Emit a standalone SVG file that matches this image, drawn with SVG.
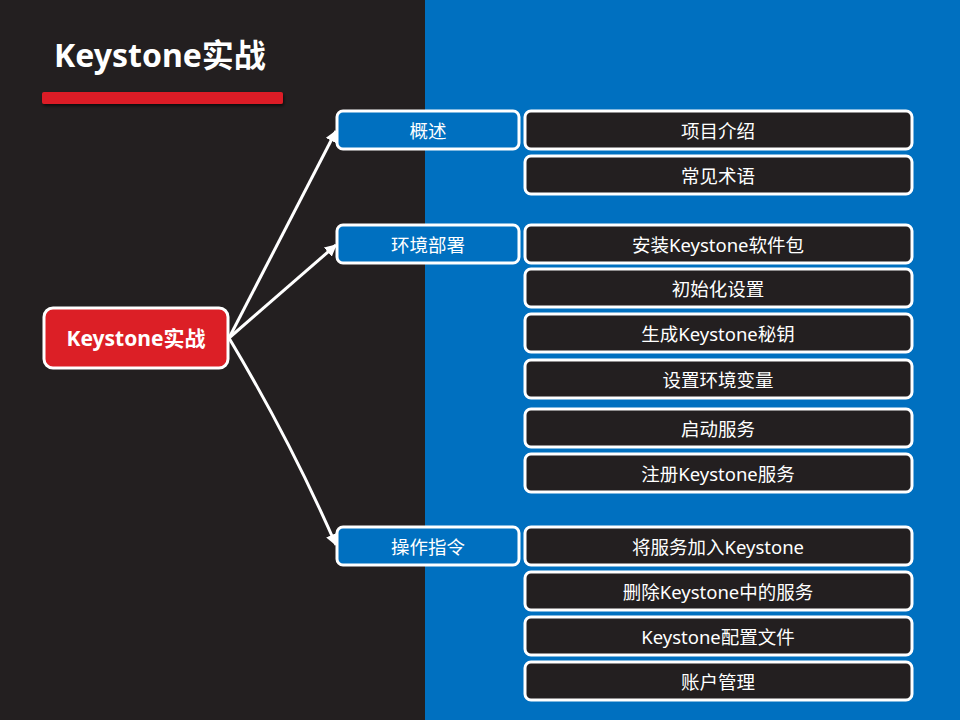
<svg xmlns="http://www.w3.org/2000/svg" width="960" height="720" viewBox="0 0 960 720">
<style>
.t{font-family:"Noto Sans","Noto Sans CJK SC",sans-serif;fill:#fff;text-anchor:middle;dominant-baseline:central}
.l1 rect{fill:#0070c0;stroke:#fff;stroke-width:3}
.l2 rect{fill:#231f20;stroke:#fff;stroke-width:3}
.l1 text,.l2 text{font-size:18.5px}
.c{stroke:#fff;stroke-width:3;fill:none}
</style>
<defs>
<marker id="a" viewBox="0 0 10 10" refX="9" refY="5" markerWidth="4" markerHeight="4" orient="auto" markerUnits="strokeWidth"><path d="M0,0L10,5L0,10z" fill="#fff"/></marker>
<filter id="sh" x="-10%" y="-50%" width="120%" height="250%"><feDropShadow dx="1" dy="2" stdDeviation="1.5" flood-color="#000" flood-opacity="0.6"/></filter>
</defs>
<rect x="0" y="0" width="960" height="720" fill="#231f20"/>
<rect x="425" y="0" width="535" height="720" fill="#0070c0"/>
<g id="title">
<text x="54" y="54" class="t" style="text-anchor:start;font-size:32px;font-weight:bold">Keystone实战</text>
<rect x="42" y="92" width="241" height="12" rx="2" fill="#dc1f26" filter="url(#sh)"/>
</g>
<g id="connectors">
<line class="c" x1="229" y1="338" x2="336" y2="131" marker-end="url(#a)"/>
<line class="c" x1="229" y1="338" x2="336" y2="245" marker-end="url(#a)"/>
<path class="c" d="M229,338 Q290,440 336,545" marker-end="url(#a)"/>
</g>
<g id="root">
<rect x="44" y="308" width="184" height="60" rx="9" fill="#dc1f26" stroke="#fff" stroke-width="3"/>
<text x="136" y="338" class="t" style="font-size:21px;font-weight:bold">Keystone实战</text>
</g>
<g id="n1" class="l1"><rect x="337" y="111" width="182" height="38" rx="6"/><text x="428" y="130" class="t">概述</text></g>
<g id="n2" class="l1"><rect x="337" y="225" width="182" height="38" rx="6"/><text x="428" y="244" class="t">环境部署</text></g>
<g id="n3" class="l1"><rect x="337" y="527" width="182" height="38" rx="6"/><text x="428" y="546" class="t">操作指令</text></g>
<g id="n1a" class="l2"><rect x="525" y="111" width="387" height="38" rx="6"/><text x="718" y="130" class="t">项目介绍</text></g>
<g id="n1b" class="l2"><rect x="525" y="156" width="387" height="38" rx="6"/><text x="718" y="175" class="t">常见术语</text></g>
<g id="n2a" class="l2"><rect x="525" y="225" width="387" height="38" rx="6"/><text x="718" y="244" class="t">安装Keystone软件包</text></g>
<g id="n2b" class="l2"><rect x="525" y="269" width="387" height="38" rx="6"/><text x="718" y="288" class="t">初始化设置</text></g>
<g id="n2c" class="l2"><rect x="525" y="314" width="387" height="38" rx="6"/><text x="718" y="333" class="t">生成Keystone秘钥</text></g>
<g id="n2d" class="l2"><rect x="525" y="360" width="387" height="38" rx="6"/><text x="718" y="379" class="t">设置环境变量</text></g>
<g id="n2e" class="l2"><rect x="525" y="409" width="387" height="38" rx="6"/><text x="718" y="428" class="t">启动服务</text></g>
<g id="n2f" class="l2"><rect x="525" y="454" width="387" height="38" rx="6"/><text x="718" y="473" class="t">注册Keystone服务</text></g>
<g id="n3a" class="l2"><rect x="525" y="527" width="387" height="38" rx="6"/><text x="718" y="546" class="t">将服务加入Keystone</text></g>
<g id="n3b" class="l2"><rect x="525" y="572" width="387" height="38" rx="6"/><text x="718" y="591" class="t">删除Keystone中的服务</text></g>
<g id="n3c" class="l2"><rect x="525" y="617" width="387" height="38" rx="6"/><text x="718" y="636" class="t">Keystone配置文件</text></g>
<g id="n3d" class="l2"><rect x="525" y="662" width="387" height="38" rx="6"/><text x="718" y="681" class="t">账户管理</text></g>
</svg>
